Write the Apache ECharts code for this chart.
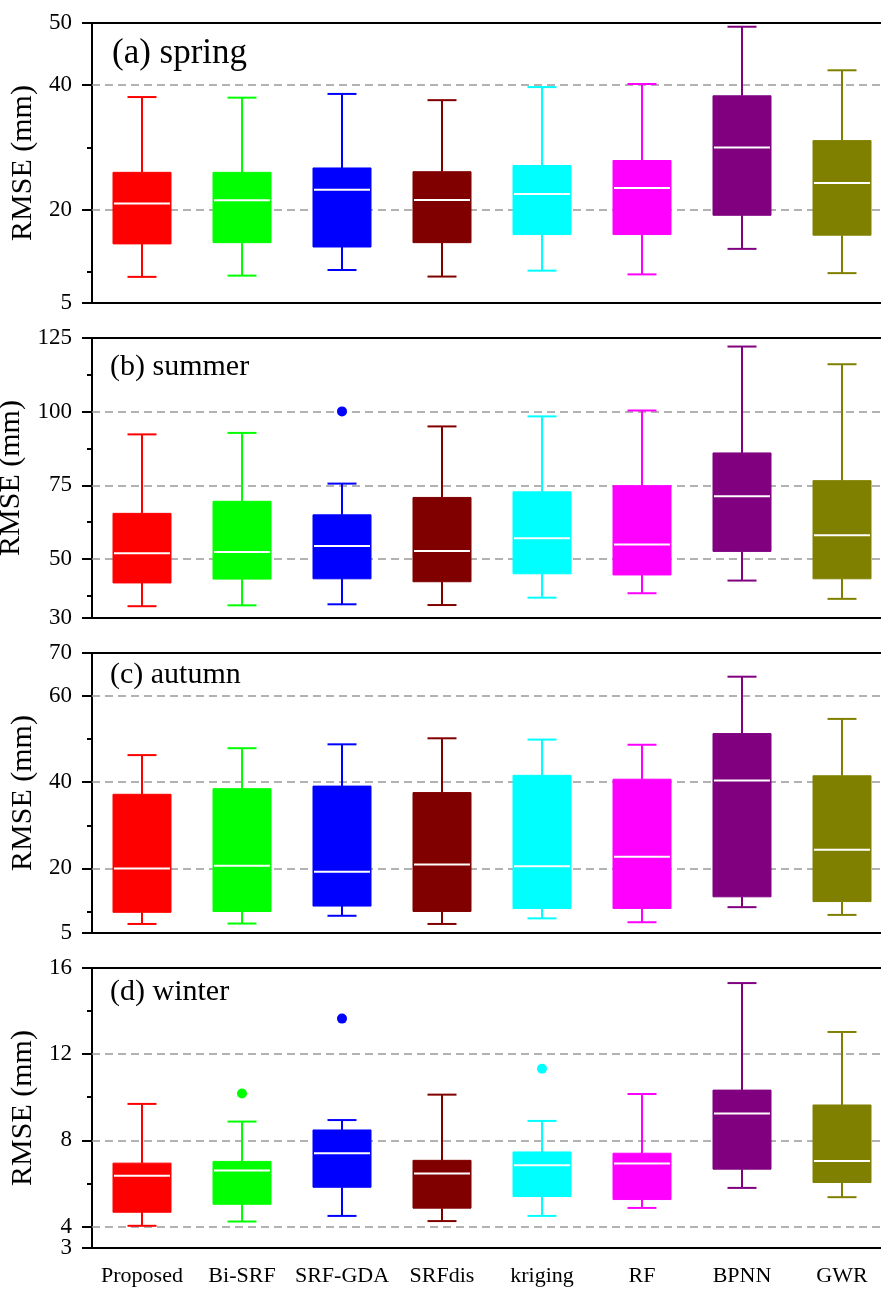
<!DOCTYPE html>
<html>
<head>
<meta charset="utf-8">
<script src="https://cdn.jsdelivr.net/npm/echarts@6.0.0/dist/echarts.min.js"></script>
<style>
  html, body { margin: 0; padding: 0; background: #fff; }
  #chart { width: 881px; height: 1289px; }
</style>
</head>
<body>
<div id="chart"></div>
<script>
  var categories = ['Proposed', 'Bi-SRF', 'SRF-GDA', 'SRFdis', 'kriging', 'RF', 'BPNN', 'GWR'];
  var colors = ['#FF0000', '#00FF00', '#0000FF', '#800000', '#00FFFF', '#FF00FF', '#800080', '#808000'];

  // each row: [low whisker, Q1, median, Q3, high whisker]
  var springBox = [
    [9.2, 14.5, 21.0, 26.0, 38.1],
    [9.4, 14.7, 21.5, 26.0, 38.0],
    [10.3, 14.0, 23.2, 26.7, 38.6],
    [9.25, 14.7, 21.55, 26.1, 37.6],
    [10.2, 16.0, 22.5, 27.1, 39.7],
    [9.6, 16.0, 23.5, 27.9, 40.2],
    [13.7, 19.1, 30.0, 38.3, 49.4],
    [9.8, 15.9, 24.3, 31.1, 42.4]
  ];
  var springOut = [];

  var summerBox = [
    [34.0, 41.9, 52.0, 65.5, 92.3],
    [34.3, 43.2, 52.4, 69.6, 92.8],
    [34.65, 43.3, 54.4, 65.0, 75.6],
    [34.4, 42.3, 52.7, 70.9, 95.0],
    [36.9, 45.0, 57.1, 72.8, 98.4],
    [38.4, 44.6, 54.9, 74.9, 100.4],
    [42.7, 52.6, 71.3, 86.0, 122.1],
    [36.5, 43.3, 58.1, 76.6, 116.1]
  ];
  var summerOut = [[2, 100.1]];

  var autumnBox = [
    [7.1, 9.8, 20.0, 37.2, 46.3],
    [7.2, 10.0, 20.6, 38.5, 47.9],
    [9.0, 11.25, 19.2, 39.1, 48.8],
    [7.1, 10.0, 20.9, 37.6, 50.2],
    [8.4, 10.7, 20.5, 41.6, 49.9],
    [7.5, 10.7, 22.7, 40.7, 48.7],
    [11.0, 13.4, 40.4, 51.3, 64.5],
    [9.2, 12.3, 24.3, 41.5, 54.7]
  ];
  var autumnOut = [];

  var winterBox = [
    [4.03, 4.66, 6.35, 6.94, 9.69],
    [4.23, 5.03, 6.60, 7.02, 8.87],
    [4.49, 5.82, 7.40, 8.48, 8.94],
    [4.25, 4.85, 6.46, 7.07, 10.12],
    [4.49, 5.39, 6.84, 7.46, 8.90],
    [4.86, 5.25, 6.92, 7.40, 10.15],
    [5.79, 6.66, 9.24, 10.33, 15.3],
    [5.36, 6.04, 7.04, 9.64, 13.03]
  ];
  var winterOut = [[1, 10.17], [2, 13.65], [4, 11.32]];

  // axis ranges and ticks per panel
  var panelTitles = ['(a) spring', '(b) summer', '(c) autumn', '(d) winter'];
  var yMin = [5, 30, 5, 3];
  var yMax = [50, 125, 70, 16];
  var majorTicks = [[5, 20, 40, 50], [30, 50, 75, 100, 125], [5, 20, 40, 60, 70], [3, 4, 8, 12, 16]];
  // labels split over two axes so that close ones (3 and 4) are not hidden
  var labelsMain = [[5, 20, 40, 50], [30, 50, 75, 100, 125], [5, 20, 40, 60, 70], [3, 8, 12, 16]];
  var labelsExtra = [[], [], [], [4]];
  var minorTicks = [[10, 30], [37.5, 62.5, 87.5, 112.5], [10, 30, 50], [6, 10, 14]];
  var gridValues = [[20, 40], [50, 75, 100], [20, 40, 60], [4, 8, 12]];

  var boxes = [springBox, summerBox, autumnBox, winterBox];
  var outliers = [springOut, summerOut, autumnOut, winterOut];

  var FONT = '"Liberation Serif", "Times New Roman", serif';
  var gridTops = [23, 338, 653, 968];
  var titleY = [54, 367, 675, 992];
  var titleSize = [35, 30, 30, 30];

  function renderBox(params, api) {
    var x = api.value(0);
    var lo = api.coord([x, api.value(1)]);
    var q1 = api.coord([x, api.value(2)]);
    var md = api.coord([x, api.value(3)]);
    var q3 = api.coord([x, api.value(4)]);
    var hi = api.coord([x, api.value(5)]);
    var band = api.size([1, 0])[0];
    var bw = band * 0.58;
    var cw = band * 0.29;
    var c = colors[x];
    var ls = { stroke: c, lineWidth: 2 };
    return {
      type: 'group',
      children: [
        { type: 'line', shape: { x1: lo[0], y1: lo[1], x2: q1[0], y2: q1[1] }, style: ls },
        { type: 'line', shape: { x1: q3[0], y1: q3[1], x2: hi[0], y2: hi[1] }, style: ls },
        { type: 'line', shape: { x1: lo[0] - cw / 2, y1: lo[1], x2: lo[0] + cw / 2, y2: lo[1] }, style: ls },
        { type: 'line', shape: { x1: hi[0] - cw / 2, y1: hi[1], x2: hi[0] + cw / 2, y2: hi[1] }, style: ls },
        { type: 'rect', shape: { x: q3[0] - bw / 2, y: q3[1], width: bw, height: q1[1] - q3[1] },
          style: { fill: c, stroke: c, lineWidth: 1 } },
        { type: 'line', shape: { x1: md[0] - bw / 2 + 1, y1: md[1], x2: md[0] + bw / 2 - 1, y2: md[1] },
          style: { stroke: '#fff', lineWidth: 2 } }
      ]
    };
  }

  var grid = [], xAxis = [], yAxis = [], series = [], graphic = [];
  // bottom category axes first (index 0-3), top frame lines after (index 4-7)
  for (var p = 0; p < 4; p++) {
    grid.push({ left: 92, width: 800, top: gridTops[p], height: 280,
      containLabel: false, outerBoundsMode: 'none', show: false });
    xAxis.push({
      type: 'category', gridIndex: p, data: categories, boundaryGap: true, position: 'bottom',
      axisLine: { onZero: false, lineStyle: { color: '#000', width: 2 } },
      axisTick: { alignWithLabel: true, length: 9, lineStyle: { color: '#000', width: 2 } },
      axisLabel: { show: p === 3, interval: 0, color: '#000', fontSize: 22, fontFamily: FONT, margin: 17 },
      splitLine: { show: false }
    });
  }
  for (var p = 0; p < 4; p++) {
    xAxis.push({
      type: 'category', gridIndex: p, data: categories, position: 'top',
      axisLine: { onZero: false, lineStyle: { color: '#000', width: 2 } },
      axisTick: { show: false }, axisLabel: { show: false }, splitLine: { show: false }
    });
  }
  for (var p = 0; p < 4; p++) {
    yAxis.push({
      type: 'value', gridIndex: p, min: yMin[p], max: yMax[p], position: 'left', offset: 0,
      name: 'RMSE (mm)', nameLocation: 'middle', nameGap: 50,
      nameTextStyle: { color: '#000', fontSize: 30, fontFamily: FONT },
      axisLine: { show: true, onZero: false, lineStyle: { color: '#000', width: 2 } },
      axisTick: { show: true, length: 10, customValues: majorTicks[p], lineStyle: { color: '#000', width: 2 } },
      axisLabel: { customValues: labelsMain[p], showMinLabel: true, showMaxLabel: true, hideOverlap: false,
        color: '#000', fontSize: 23, fontFamily: FONT, margin: 20 },
      splitLine: { show: false }
    });
    yAxis.push({
      type: 'value', gridIndex: p, min: yMin[p], max: yMax[p], position: 'left', offset: 0,
      axisLine: { show: false, onZero: false },
      axisTick: { show: true, length: 5, customValues: minorTicks[p], lineStyle: { color: '#000', width: 2 } },
      axisLabel: { show: labelsExtra[p].length > 0, customValues: labelsExtra[p].length ? labelsExtra[p] : undefined,
        showMinLabel: true, showMaxLabel: true,
        color: '#000', fontSize: 23, fontFamily: FONT, margin: 20 },
      splitLine: { show: false }
    });

    series.push({
      type: 'line', xAxisIndex: p, yAxisIndex: 2 * p, data: [], silent: true,
      markLine: {
        silent: true, symbol: 'none', label: { show: false },
        lineStyle: { color: '#999', type: [8, 5], width: 1.5 },
        data: gridValues[p].map(function (v) { return { yAxis: v }; })
      }
    });
    series.push({
      type: 'custom', xAxisIndex: p, yAxisIndex: 2 * p, z: 10,
      renderItem: renderBox,
      encode: { x: 0, y: [1, 2, 3, 4, 5] },
      data: boxes[p].map(function (b, i) { return [i].concat(b); })
    });
    series.push({
      type: 'scatter', xAxisIndex: p, yAxisIndex: 2 * p, z: 11,
      symbol: 'circle', symbolSize: 10,
      itemStyle: { opacity: 1, color: function (d) { return colors[d.value[0]]; } },
      data: outliers[p]
    });

    graphic.push({
      type: 'text', left: p === 0 ? 112 : 110, top: titleY[p] - titleSize[p] / 2,
      style: { text: panelTitles[p], fill: '#000', font: titleSize[p] + 'px ' + FONT }
    });
  }

  var chart = echarts.init(document.getElementById('chart'));
  chart.setOption({
    animation: false,
    backgroundColor: '#fff',
    grid: grid,
    xAxis: xAxis,
    yAxis: yAxis,
    series: series,
    graphic: graphic
  });
</script>
</body>
</html>
